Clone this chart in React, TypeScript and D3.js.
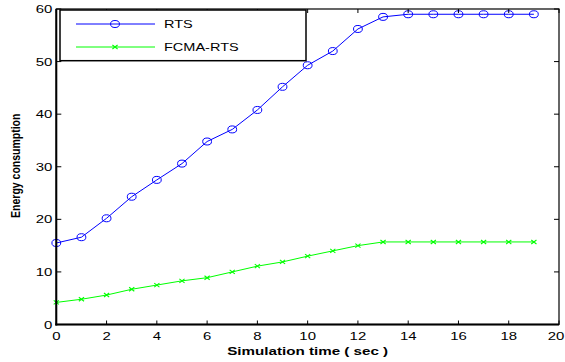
import React from "react";
import * as d3 from "d3";

const times = [0, 1, 2, 3, 4, 5, 6, 7, 8, 9, 10, 11, 12, 13, 14, 15, 16, 17, 18, 19];
const rtsValues = [15.5, 16.6, 20.2, 24.3, 27.5, 30.6, 34.8, 37.1, 40.8, 45.2, 49.3, 52.0, 56.2, 58.5, 59.0, 59.0, 59.0, 59.0, 59.0, 59.0];
const fcmaValues = [4.2, 4.8, 5.6, 6.7, 7.5, 8.3, 8.9, 10.0, 11.1, 11.9, 13.0, 14.0, 15.0, 15.7, 15.7, 15.7, 15.7, 15.7, 15.7, 15.7];
const xTicks = [0, 2, 4, 6, 8, 10, 12, 14, 16, 18, 20];
const yTicks = [0, 10, 20, 30, 40, 50, 60];
const seriesNames = ["RTS", "FCMA-RTS"];

const W = 565;
const H = 362;
const L = 56.3, R = 559, T = 9, B = 324.5;

export default function App() {
  const x = d3.scaleLinear().domain([0, 20]).range([L, R]);
  const y = d3.scaleLinear().domain([0, 60]).range([B, T]);
  const line = d3.line<number>().x((_, i) => x(times[i])).y((d) => y(d));
  const blue = "#0000ff";
  const green = "#00ff00";
  const font = "Arial, 'Liberation Sans', sans-serif";
  const sx = 1.3;

  const cross = (cx: number, cy: number, key: string) => (
    <path
      key={key}
      d={`M${cx - 2.6},${cy - 2} L${cx + 2.6},${cy + 2} M${cx - 2.6},${cy + 2} L${cx + 2.6},${cy - 2}`}
      stroke={green}
      strokeWidth={1.1}
      fill="none"
    />
  );

  return (
    <svg width={W} height={H} style={{ position: "absolute", left: 0, top: 0, background: "#fff" }}>
      <rect x={0} y={0} width={W} height={H} fill="#fff" />
      <path d={line(rtsValues) || ""} fill="none" stroke={blue} strokeWidth={1} />
      {rtsValues.map((v, i) => (
        <ellipse key={"r" + i} cx={x(times[i])} cy={y(v)} rx={4.4} ry={3.5} fill="none" stroke={blue} strokeWidth={1} />
      ))}
      <path d={line(fcmaValues) || ""} fill="none" stroke={green} strokeWidth={1} />
      {fcmaValues.map((v, i) => cross(x(times[i]), y(v), "f" + i))}

      <rect x={L} y={T} width={R - L} height={B - T} fill="none" stroke="#000" strokeWidth={1.2} />
      <line x1={L} x2={L} y1={T} y2={B + 1} stroke="#000" strokeWidth={2} />
      <line x1={L - 1} x2={R} y1={B} y2={B} stroke="#000" strokeWidth={2} />

      {xTicks.map((t) => {
        const px = Math.min(x(t), W - 9);
        return (
          <g key={"xt" + t}>
            <line x1={x(t)} x2={x(t)} y1={B} y2={B - 4} stroke="#000" strokeWidth={1} />
            <line x1={x(t)} x2={x(t)} y1={T} y2={T + 4} stroke="#000" strokeWidth={1} />
            <text
              transform={`translate(${px},${B + 15}) scale(${sx},1)`}
              textAnchor="middle"
              fontFamily={font}
              fontSize={11.5}
              fill="#000"
            >
              {t}
            </text>
          </g>
        );
      })}
      {yTicks.map((t) => (
        <g key={"yt" + t}>
          <line x1={L} x2={L + 5} y1={y(t)} y2={y(t)} stroke="#000" strokeWidth={1} />
          <line x1={R} x2={R - 5} y1={y(t)} y2={y(t)} stroke="#000" strokeWidth={1} />
          <text
            transform={`translate(${L - 4},${y(t) + 4}) scale(${sx},1)`}
            textAnchor="end"
            fontFamily={font}
            fontSize={11.5}
            fill="#000"
          >
            {t}
          </text>
        </g>
      ))}

      <text
        transform={`translate(${(L + R) / 2},${355}) scale(1.38,1)`}
        textAnchor="middle"
        fontFamily={font}
        fontWeight="bold"
        fontSize={11}
        fill="#000"
      >
        Simulation time ( sec )
      </text>
      <text
        transform={`translate(${20},${(T + B) / 2 - 1}) rotate(-90) scale(1,1.25)`}
        textAnchor="middle"
        fontFamily={font}
        fontWeight="bold"
        fontSize={10.5}
        fill="#000"
      >
        Energy consumption
      </text>

      <rect x={60} y={10} width={246} height={50.7} fill="#fff" stroke="#000" strokeWidth={1.5} />
      <line x1={76} x2={155} y1={24} y2={24} stroke={blue} strokeWidth={1} />
      <ellipse cx={115} cy={24} rx={4.4} ry={3.5} fill="none" stroke={blue} strokeWidth={1} />
      <text transform={`translate(164,28) scale(1.32,1)`} fontFamily={font} fontSize={11} fill="#000">
        {seriesNames[0]}
      </text>
      <line x1={76} x2={155} y1={47} y2={47} stroke={green} strokeWidth={1} />
      {cross(115, 47, "legcross")}
      <text transform={`translate(164,51) scale(1.32,1)`} fontFamily={font} fontSize={11} fill="#000">
        {seriesNames[1]}
      </text>
    </svg>
  );
}
